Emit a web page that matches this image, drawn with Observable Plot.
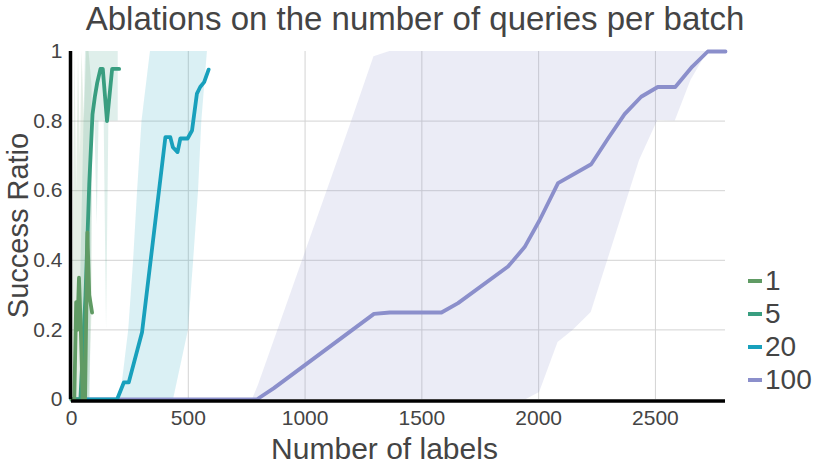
<!DOCTYPE html>
<html>
<head>
<meta charset="utf-8">
<script src="https://cdn.jsdelivr.net/npm/d3@7"></script>
<script src="https://cdn.jsdelivr.net/npm/@observablehq/plot@0.6"></script>
<style>
  body { margin: 0; background: #fff; font-family: "Liberation Sans", Arial, sans-serif; }
  #wrap { position: relative; width: 830px; height: 467px; }
  #title { height: 40px; line-height: 38px; text-align: center; font-size: 33px; color: #444; white-space: nowrap; }
  #legend { position: absolute; left: 748px; top: 264px; color: #444; font-size: 28px; }
  .item { display: flex; align-items: center; height: 33px; }
  .sw { width: 14px; height: 4px; margin-right: 3px; }
</style>
</head>
<body>
<div id="wrap">
  <div id="title">Ablations on the number of queries per batch</div>
  <div id="chart"></div>
  <div id="legend"></div>
</div>
<script>
// ---- data ----
const seriesNames = ["1", "5", "20", "100"];
const seriesColors = ["#609b64", "#399e80", "#18a0bc", "#8b8fcb"];

// series "1"
const s1X = [0, 12, 20, 25, 32, 40, 48, 58, 68, 76, 88];
const s1Y = [0, 0, 0.28, 0.2, 0.35, 0.2, 0, 0, 0.48, 0.3, 0.25];
const b1X = [0, 8, 15, 22, 30, 38, 45, 55, 65, 75, 88];
const b1Lo = [0, 0, 0, 0, 0, 0, 0, 0, 0, 0, 0.25];
const b1Hi = [0, 0.5, 1, 0.6, 1, 0.7, 1, 0.8, 1, 1, 0.9];

// series "5"
const s5X = [0, 38, 60, 76, 90, 100, 110, 124, 134, 152, 174, 204];
const s5Y = [0, 0, 0.3, 0.62, 0.82, 0.87, 0.91, 0.95, 0.95, 0.8, 0.95, 0.95];
const b5X = [38, 60, 80, 92, 100, 110, 118, 125, 140, 150, 160, 175, 200];
const b5Lo = [0, 0, 0, 0.8, 0.8, 0.5, 0.8, 0.8, 0.8, 0.2, 0.8, 0.8, 0.8];
const b5Hi = [0.3, 1, 1, 1, 1, 1, 1, 1, 1, 1, 1, 1, 1];

// series "20"
const s20X = [0, 195, 224, 245, 302, 402, 423, 434, 454, 466, 497, 516, 537, 551, 568, 587];
const s20Y = [0, 0, 0.049, 0.049, 0.193, 0.754, 0.754, 0.725, 0.711, 0.75, 0.75, 0.773, 0.879, 0.898, 0.912, 0.948];
const b20X = [209, 245, 266, 283, 302, 338, 437, 501, 523, 544, 558, 582];
const b20Lo = [0, 0, 0, 0, 0, 0, 0, 0.2, 0.4, 0.6, 0.8, 1];
const b20Hi = [0, 0.2, 0.4, 0.6, 0.8, 1, 1, 1, 1, 1, 1, 1];

// series "100"
const s100X = [0, 793, 865, 1295, 1363, 1584, 1655, 1869, 1940, 2004, 2083, 2225, 2297, 2368, 2439, 2510, 2585, 2657, 2724, 2800];
const s100Y = [0, 0, 0.032, 0.246, 0.25, 0.25, 0.277, 0.382, 0.438, 0.515, 0.622, 0.676, 0.75, 0.82, 0.87, 0.898, 0.898, 0.956, 1, 1];
const b100X = [775, 800, 900, 1000, 1100, 1200, 1295, 1363, 1500, 1947, 2004, 2083, 2147, 2225, 2432, 2510, 2585, 2652, 2724, 2800];
const b100Lo = [0, 0, 0, 0, 0, 0, 0, 0, 0, 0, 0.02, 0.164, 0.198, 0.25, 0.687, 0.802, 0.8, 0.917, 1, 1];
const b100Hi = [0, 0.04, 0.23, 0.42, 0.61, 0.8, 0.985, 1, 1, 1, 1, 1, 1, 1, 1, 1, 1, 1, 1, 1];

const xTicks = [0, 500, 1000, 1500, 2000, 2500];
const yTicks = [0, 0.2, 0.4, 0.6, 0.8, 1];
const xLabel = "Number of labels";
const yLabel = "Success Ratio";

// ---- build tables ----
const lines = [[s1X, s1Y], [s5X, s5Y], [s20X, s20Y], [s100X, s100Y]]
  .map(([xs, ys], i) => xs.map((x, j) => ({x, y: ys[j], s: seriesNames[i]})));
const bands = [[b1X, b1Lo, b1Hi], [b5X, b5Lo, b5Hi], [b20X, b20Lo, b20Hi], [b100X, b100Lo, b100Hi]]
  .map(([xs, lo, hi], i) => xs.map((x, j) => ({x, lo: lo[j], hi: hi[j], s: seriesNames[i]})));
const bandOpacity = [0.16, 0.16, 0.16, 0.17];

const marks = [
  Plot.gridX(xTicks.filter(d => d > 0), {stroke: "#d3d3d3", strokeOpacity: 1, strokeWidth: 1}),
  Plot.gridY(yTicks.filter(d => d > 0 && d < 1), {stroke: "#d3d3d3", strokeOpacity: 1, strokeWidth: 1}),
];
bands.forEach((b, i) => marks.push(Plot.areaY(b, {x: "x", y1: "lo", y2: "hi", fill: seriesColors[i], fillOpacity: bandOpacity[i]})));
[3, 2, 1, 0].forEach(i => marks.push(Plot.line(lines[i], {x: "x", y: "y", stroke: seriesColors[i], strokeWidth: 3.8, strokeLinejoin: "round"})));
marks.push(
  Plot.axisX(xTicks, {tickSize: 0, tickPadding: 11, fontSize: 21, label: null, tickFormat: d => String(d)}),
  Plot.axisY(yTicks, {tickSize: 0, tickPadding: 9, fontSize: 21, label: null, tickFormat: d => String(+d.toFixed(1))}),
  Plot.ruleX([0], {stroke: "black", strokeWidth: 3.5, dx: -1}),
  Plot.ruleY([0], {stroke: "black", strokeWidth: 3.5, dy: 1.5}),
  Plot.text([xLabel], {frameAnchor: "bottom", textAnchor: "middle", lineAnchor: "middle", dy: 50, dx: -14, fontSize: 30, fill: "#444"}),
  Plot.text([yLabel], {frameAnchor: "left", textAnchor: "middle", lineAnchor: "middle", rotate: -90, dx: -53, fontSize: 29, fill: "#444"})
);

const chart = Plot.plot({
  width: 830, height: 427,
  marginTop: 11, marginBottom: 68, marginLeft: 71, marginRight: 105,
  x: {domain: [0, 2800]},
  y: {domain: [0, 1]},
  style: {fontFamily: "Liberation Sans, Arial, sans-serif", color: "#444", background: "white", overflow: "visible"},
  marks
});
document.getElementById("chart").appendChild(chart);

const legend = document.getElementById("legend");
seriesNames.forEach((n, i) => {
  const row = document.createElement("div");
  row.className = "item";
  const sw = document.createElement("div");
  sw.className = "sw";
  sw.style.background = seriesColors[i];
  const t = document.createElement("span");
  t.textContent = n;
  row.appendChild(sw); row.appendChild(t);
  legend.appendChild(row);
});
</script>
</body>
</html>
